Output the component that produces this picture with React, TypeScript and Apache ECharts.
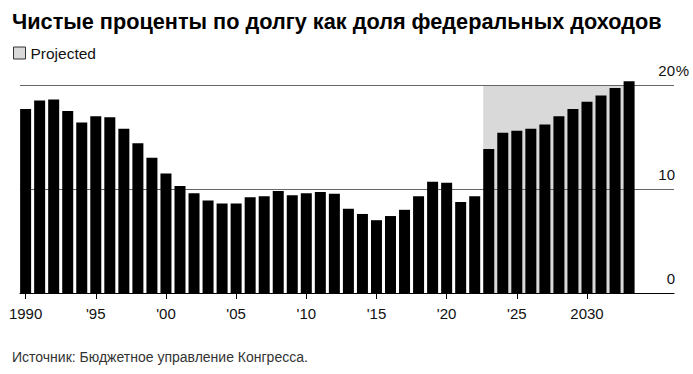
import React, { useEffect, useRef } from "react";
import * as echarts from "echarts";

const years: number[] = [
  1990, 1991, 1992, 1993, 1994, 1995, 1996, 1997, 1998, 1999,
  2000, 2001, 2002, 2003, 2004, 2005, 2006, 2007, 2008, 2009,
  2010, 2011, 2012, 2013, 2014, 2015, 2016, 2017, 2018, 2019,
  2020, 2021, 2022, 2023, 2024, 2025, 2026, 2027, 2028, 2029,
  2030, 2031, 2032, 2033,
];
const interestShare: number[] = [
  17.7, 18.5, 18.6, 17.5, 16.4, 17.0, 16.9, 15.8, 14.4, 13.0,
  11.5, 10.3, 9.6, 8.9, 8.6, 8.6, 9.2, 9.3, 9.8, 9.4,
  9.6, 9.7, 9.55, 8.1, 7.6, 7.0, 7.4, 8.0, 9.3, 10.7,
  10.6, 8.75, 9.3, 13.85, 15.4, 15.6, 15.8, 16.2, 17.0, 17.7,
  18.4, 19.0, 19.7, 20.35,
];
const projectedRange: [number, number] = [2023, 2033];
const projectedTop = 20;
const xTickYears: number[] = [1990, 1995, 2000, 2005, 2010, 2015, 2020, 2025, 2030];
const xTickLabels: string[] = ["1990", "'95", "'00", "'05", "'10", "'15", "'20", "'25", "2030"];
const yTickValues: number[] = [0, 10, 20];
const yTickNumbers: string[] = ["0", "10", "20"];
const yTickSuffix: string[] = ["", "", "%"];

const TITLE = "Чистые проценты по долгу как доля федеральных доходов";
const SOURCE = "Источник: Бюджетное управление Конгресса.";
const FONT = "'Liberation Sans', Arial, Helvetica, sans-serif";
const BAR_W = 11;

export default function App() {
  const ref = useRef<HTMLDivElement | null>(null);
  useEffect(() => {
    if (!ref.current) return;
    const chart = echarts.init(ref.current, null, { renderer: "svg" });
    const option: any = {
      animation: false,
      backgroundColor: "#fff",
      textStyle: { fontFamily: FONT },
      title: [
        {
          text: TITLE,
          left: 7,
          top: 5,
          textStyle: { fontSize: 21.7, fontWeight: "bold", color: "#000", fontFamily: FONT },
        },
        {
          text: SOURCE,
          left: 7,
          top: 345,
          textStyle: { fontSize: 14, fontWeight: "normal", color: "#333", fontFamily: FONT },
        },
      ],
      legend: {
        left: 8,
        top: 40,
        itemWidth: 12,
        itemHeight: 12,
        itemGap: 10,
        textStyle: { fontSize: 15.5, color: "#111", fontFamily: FONT, padding: [1, 0, 0, 0] },
        data: [
          {
            name: "Projected",
            icon: "rect",
            itemStyle: { color: "#d9d9d9", borderColor: "#333", borderWidth: 1 },
          },
        ],
      },
      grid: { left: 20, right: 19, top: 85, bottom: 81, containLabel: false },
      xAxis: {
        type: "value",
        min: 1989.6,
        max: 2036.2,
        splitLine: { show: false },
        axisLine: { show: true, lineStyle: { color: "#000", width: 1 } },
        axisTick: {
          show: true,
          customValues: xTickYears,
          length: 6,
          lineStyle: { color: "#000", width: 1 },
        },
        axisLabel: {
          customValues: xTickYears,
          margin: 13,
          fontSize: 15,
          color: "#111",
          fontFamily: FONT,
          formatter: (v: number) => {
            const i = xTickYears.indexOf(Math.round(v));
            return i >= 0 ? xTickLabels[i] : "";
          },
        },
      },
      yAxis: {
        type: "value",
        position: "right",
        min: 0,
        max: 20,
        interval: 10,
        axisLine: { show: false },
        axisTick: { show: false },
        splitLine: { show: true, lineStyle: { color: "#666", width: 1 } },
        axisLabel: {
          inside: false,
          margin: 15,
          align: "right",
          verticalAlign: "bottom",
          padding: [0, 0, 7, 0],
          fontSize: 15,
          color: "#111",
          fontFamily: FONT,
          formatter: (v: number) => {
            const i = yTickValues.indexOf(v);
            if (i < 0) return "";
            return `{n|${yTickNumbers[i]}}{p|${yTickSuffix[i] || "\u00a0"}}`;
          },
          rich: {
            n: { fontSize: 15, color: "#111", fontFamily: FONT },
            p: { fontSize: 15, color: "#111", fontFamily: FONT, width: 14 },
          },
        },
      },
      series: [
        {
          name: "Projected",
          type: "custom",
          z: -1,
          silent: true,
          itemStyle: { color: "#d9d9d9" },
          encode: { x: [0, 1], y: 2 },
          data: [[projectedRange[0], projectedRange[1], projectedTop]],
          renderItem: (params: any, api: any) => {
            const p0 = api.coord([api.value(0), api.value(2)]);
            const p1 = api.coord([api.value(1), 0]);
            const x0 = p0[0] - BAR_W / 2;
            return {
              type: "rect",
              shape: { x: x0, y: p0[1], width: p1[0] - x0, height: p1[1] - p0[1] },
              style: { fill: "#d9d9d9" },
            };
          },
        },
        {
          name: "Net interest",
          type: "bar",
          barWidth: BAR_W,
          clip: false,
          itemStyle: { color: "#000" },
          data: years.map((y, i) => [y, interestShare[i]]),
        },
      ],
    };
    chart.setOption(option);
    return () => chart.dispose();
  }, []);
  return (
    <div
      ref={ref}
      style={{ position: "fixed", left: 0, top: 0, width: 693, height: 374, background: "#fff" }}
    />
  );
}
